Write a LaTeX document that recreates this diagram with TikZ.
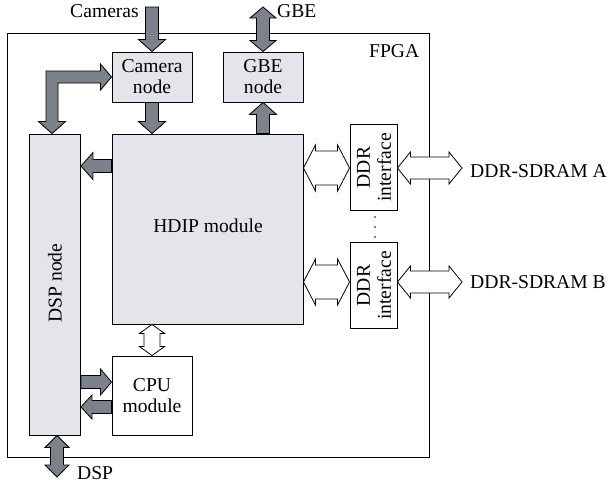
\documentclass[tikz,border=0pt]{standalone}
\usepackage{fontspec}
\setmainfont{Liberation Serif}
\usetikzlibrary{calc}
\definecolor{boxgray}{RGB}{228,229,234}
\definecolor{arrowgray}{RGB}{124,130,137}
\newcommand{\fs}{\fontsize{19.6}{21}\selectfont}
% single block arrow: #1 style, #2 from, #3 to, #4 shaft half width, #5 head half width, #6 head length
\newcommand{\onearrow}[6]{%
\draw[#1] let \p1=#2, \p2=#3, \n1={veclen(\x2-\x1,\y2-\y1)}, \n2={(\x2-\x1)/\n1}, \n3={(\y2-\y1)/\n1} in
 ({\x1-#4*\n3},{\y1+#4*\n2}) -- ({\x2-#6*\n2-#4*\n3},{\y2-#6*\n3+#4*\n2}) -- ({\x2-#6*\n2-#5*\n3},{\y2-#6*\n3+#5*\n2}) -- (\p2) -- ({\x2-#6*\n2+#5*\n3},{\y2-#6*\n3-#5*\n2}) -- ({\x2-#6*\n2+#4*\n3},{\y2-#6*\n3-#4*\n2}) -- ({\x1+#4*\n3},{\y1-#4*\n2}) -- cycle;}
% double block arrow
\newcommand{\twoarrow}[6]{%
\draw[#1] let \p1=#2, \p2=#3, \n1={veclen(\x2-\x1,\y2-\y1)}, \n2={(\x2-\x1)/\n1}, \n3={(\y2-\y1)/\n1} in
 (\p1) -- ({\x1+#6*\n2-#5*\n3},{\y1+#6*\n3+#5*\n2}) -- ({\x1+#6*\n2-#4*\n3},{\y1+#6*\n3+#4*\n2}) -- ({\x2-#6*\n2-#4*\n3},{\y2-#6*\n3+#4*\n2}) -- ({\x2-#6*\n2-#5*\n3},{\y2-#6*\n3+#5*\n2}) -- (\p2) -- ({\x2-#6*\n2+#5*\n3},{\y2-#6*\n3-#5*\n2}) -- ({\x2-#6*\n2+#4*\n3},{\y2-#6*\n3-#4*\n2}) -- ({\x1+#6*\n2+#4*\n3},{\y1+#6*\n3-#4*\n2}) -- ({\x1+#6*\n2+#5*\n3},{\y1+#6*\n3-#5*\n2}) -- cycle;}
\tikzset{
  box/.style={draw, line width=0.9pt, inner sep=0pt, align=center, font=\fs},
  graybox/.style={box, fill=boxgray},
  whitebox/.style={box, fill=white},
  barrow/.style={draw=black, fill=arrowgray, line width=0.8pt, line join=miter},
  warrow/.style={draw=black, fill=white, line width=0.8pt, line join=miter},
  lbl/.style={font=\fs, inner sep=0pt},
}
\begin{document}
\begin{tikzpicture}[x=1pt, y=-1pt]
\useasboundingbox (0,0) rectangle (611,482);
% FPGA frame
\node[box, minimum width=422pt, minimum height=424pt] (fpga) at (218,245) {};
\node[lbl, anchor=base west] (fpgalbl) at (369,57) {FPGA};
% blocks
\node[graybox, minimum width=80pt, minimum height=50pt] (cam) at (152,77) {Camera\\node};
\node[graybox, minimum width=80pt, minimum height=50pt] (gbe) at (263,77) {GBE\\node};
\node[graybox, minimum width=191pt, minimum height=190pt] (hdip) at (207.5,229) {};
\node[lbl] (hdiplbl) at (208,226) {HDIP module};
\node[graybox, minimum width=51pt, minimum height=301pt] (dsp) at (55,284.5) {};
\node[lbl, rotate=90] (dsplbl) at (55,283) {DSP node};
\node[whitebox, minimum width=80pt, minimum height=79pt] (cpu) at (152,395.5) {CPU\\module};
\node[whitebox, minimum width=47pt, minimum height=86pt] (ddra) at (373.5,167) {};
\node[lbl, rotate=90, align=center] (ddraltxt) at (374,167.5) {DDR\\interface};
\node[whitebox, minimum width=47pt, minimum height=86pt] (ddrb) at (373.5,285) {};
\node[lbl, rotate=90, align=center] (ddrbtxt) at (374,285.5) {DDR\\interface};
% dots between DDR interfaces
\fill (375,217) circle (0.9pt) (375,227) circle (0.9pt) (375,237) circle (0.9pt);
% external labels
\node[lbl, anchor=base east] (camlbl) at (139,17) {Cameras};
\node[lbl, anchor=base west] (gbelbl) at (277,17) {GBE};
\node[lbl, anchor=base west] (sdrama) at (470,177) {DDR-SDRAM A};
\node[lbl, anchor=base west] (sdramb) at (470,288) {DDR-SDRAM B};
\node[lbl, anchor=base west] (dspext) at (77,479) {DSP};
% free ends
\coordinate (camin) at (152,7);
\coordinate (gbeout) at (263,7);
\coordinate (dspout) at (57,477);
\coordinate (ya) at (0,168);
\coordinate (yb) at (0,282);
\coordinate (outa) at (462,168);
\coordinate (outb) at (462,282);
\coordinate (y1) at (0,166);
\coordinate (y2) at (0,382);
\coordinate (y3) at (0,407);
% gray arrows
\onearrow{barrow}{(camin)}{(cam.north)}{6.5pt}{13.5pt}{12pt}
\twoarrow{barrow}{(gbeout)}{(gbe.north)}{6.5pt}{13pt}{11pt}
\onearrow{barrow}{(cam.south)}{(cam.south |- hdip.north)}{6.5pt}{13.5pt}{12pt}
\onearrow{barrow}{(gbe.south |- hdip.north)}{(gbe.south)}{6.5pt}{13.5pt}{12pt}
\onearrow{barrow}{(hdip.west |- y1)}{(dsp.east |- y1)}{6.5pt}{13.5pt}{12pt}
\onearrow{barrow}{(dsp.east |- y2)}{(cpu.west |- y2)}{6.5pt}{13pt}{11pt}
\onearrow{barrow}{(cpu.west |- y3)}{(dsp.east |- y3)}{6.5pt}{12pt}{11pt}
\twoarrow{barrow}{(dsp.south -| dspout)}{(dspout)}{6.5pt}{12pt}{12pt}
% L-shaped double arrow between camera node and DSP node
\draw[barrow] let \p1=(cam.west), \p2=($(dsp.north)+(-3,0)$) in
  (\p1) -- ($(\p1)+(-11pt,13pt)$) -- ($(\p1)+(-11pt,6pt)$) -- (\x2-6pt,\y1+6pt)
  -- (\x2-6pt,\y2+12pt) -- (\x2-13.5pt,\y2+12pt) -- (\p2) -- (\x2+13.5pt,\y2+12pt)
  -- (\x2+6pt,\y2+12pt) -- (\x2+6pt,\y1-6pt) -- ($(\p1)+(-11pt,-6pt)$) -- ($(\p1)+(-11pt,-13pt)$) -- cycle;
% white arrows
\twoarrow{warrow}{(hdip.east |- ya)}{(ddra.west |- ya)}{17pt}{23pt}{12pt}
\twoarrow{warrow}{(ddra.east |- ya)}{(outa)}{11pt}{16pt}{13pt}
\twoarrow{warrow}{(hdip.east |- yb)}{(ddrb.west |- yb)}{17pt}{23pt}{12pt}
\twoarrow{warrow}{(ddrb.east |- yb)}{(outb)}{11pt}{16pt}{13pt}
\twoarrow{warrow}{(cpu.north |- hdip.south)}{(cpu.north)}{8pt}{12.5pt}{9pt}
\end{tikzpicture}
\end{document}
